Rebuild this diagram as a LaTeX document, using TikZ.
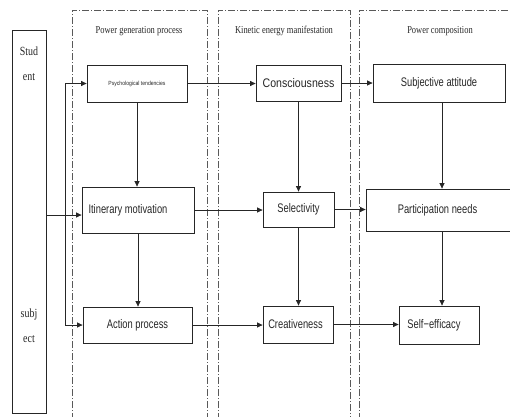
\documentclass[tikz,border=0pt]{standalone}
\usepackage{fontspec}
\usetikzlibrary{arrows.meta}
\newfontfamily\hdrfont[FakeStretch=0.8]{Liberation Serif}
\newfontfamily\boxfont[FakeStretch=0.75]{Liberation Sans}
\newfontfamily\bigboxfont[FakeStretch=0.85]{Liberation Sans}
\definecolor{ink}{gray}{0.15}
\definecolor{panelline}{gray}{0.35}
\begin{document}
\begin{tikzpicture}[x=1bp,y=-1bp,
  box/.style={draw=ink,line width=0.8bp,rectangle,inner sep=0pt,align=center,
    font=\boxfont\fontsize{12.5}{14}\selectfont,text=ink},
  panel/.style={draw=panelline,line width=0.6bp,dash pattern=on 7bp off 2bp on 1bp off 2bp},
  head/.style={font=\hdrfont\fontsize{10.6}{12}\selectfont,text=ink,inner sep=0pt},
  flow/.style={draw=ink,line width=0.7bp,-{Triangle[length=5.5bp,width=5bp]}},
  link/.style={draw=ink,line width=0.7bp}]
\useasboundingbox (0,0) rectangle (510,416);
\clip (0,0) rectangle (510,416);

% dash-dot panels (open to the right and bottom edges)
\draw[panel] (72,420) -- (72,10) -- (207,10) -- (207,420);
\draw[panel] (218,420) -- (218,10) -- (350,10) -- (350,420);
\draw[panel] (359,420) -- (359,10) -- (515,10);

\node[head] (h1) at (139,31) {Power generation process};
\node[head] (h2) at (284,31) {Kinetic energy manifestation};
\node[head] (h3) at (440,31) {Power composition};

% student subject column
\node[box,minimum width=34bp,minimum height=383bp] (stu) at (29,221.5) {};
\node[font=\hdrfont\fontsize{12.5}{25}\selectfont,text=ink,align=center] (stutop) at (29,64) {Stud\\ent};
\node[font=\hdrfont\fontsize{12.5}{25}\selectfont,text=ink,align=center] (stubot) at (29,326) {subj\\ect};

% process boxes
\node[box,minimum width=100bp,minimum height=37bp,font=\bigboxfont\fontsize{6}{7}\selectfont] (psy) at (137,83.5) {Psychological tendencies};
\node[box,minimum width=85bp,minimum height=36bp,font=\bigboxfont\fontsize{12.5}{14}\selectfont] (con) at (298.5,83) {Consciousness};
\node[box,minimum width=132bp,minimum height=38bp] (sub) at (439,83) {Subjective\ attitude};
\node[box,minimum width=112bp,minimum height=46bp] (iti) at (138,210) {\hspace*{-20bp}Itinerary\ motivation};
\node[box,minimum width=71bp,minimum height=35bp] (sel) at (298.5,209.5) {Selectivity};
\node[box,minimum width=148bp,minimum height=42bp] (par) at (440,210) {\hspace*{-5bp}Participation\ needs};
\node[box,minimum width=109bp,minimum height=36bp] (act) at (137.5,325) {Action process};
\node[box,minimum width=70bp,minimum height=37bp] (cre) at (298,324.5) {\hspace*{-5bp}Creativeness};
\node[box,minimum width=80bp,minimum height=38bp] (slf) at (439,325) {\hspace*{-10bp}Self{\boxfont\symbol{"2212}}efficacy};

% fan-out from the student column
\coordinate (fork) at (65,215);
\draw[link] (stu.east |- fork) -- (fork);
\draw[link] (fork |- psy.west) -- (fork |- act.west);
\draw[flow] (fork |- psy.west) -- (psy.west);
\draw[flow] (fork) -- (fork -| iti.west);
\draw[flow] (fork |- act.west) -- (act.west);

% horizontal flows
\draw[flow] (psy.east) -- (psy.east -| con.west);
\draw[flow] (con.east) -- (con.east -| sub.west);
\draw[flow] (iti.east) -- (iti.east -| sel.west);
\draw[flow] (sel.east) -- (sel.east -| par.west);
\draw[flow] (act.east) -- (act.east -| cre.west);
\draw[flow] (cre.east) -- (cre.east -| slf.west);

% vertical flows
\draw[flow] (psy.south) -- (psy.south |- iti.north);
\draw[flow] (iti.south) -- (iti.south |- act.north);
\draw[flow] (con.south) -- (con.south |- sel.north);
\draw[flow] (sel.south) -- (sel.south |- cre.north);
\draw[flow] ([xshift=3bp]sub.south) -- ([xshift=3bp]sub.south |- par.north);
\draw[flow] ([xshift=3bp]sub.south |- par.south) -- ([xshift=3bp]sub.south |- slf.north);
\end{tikzpicture}
\end{document}
